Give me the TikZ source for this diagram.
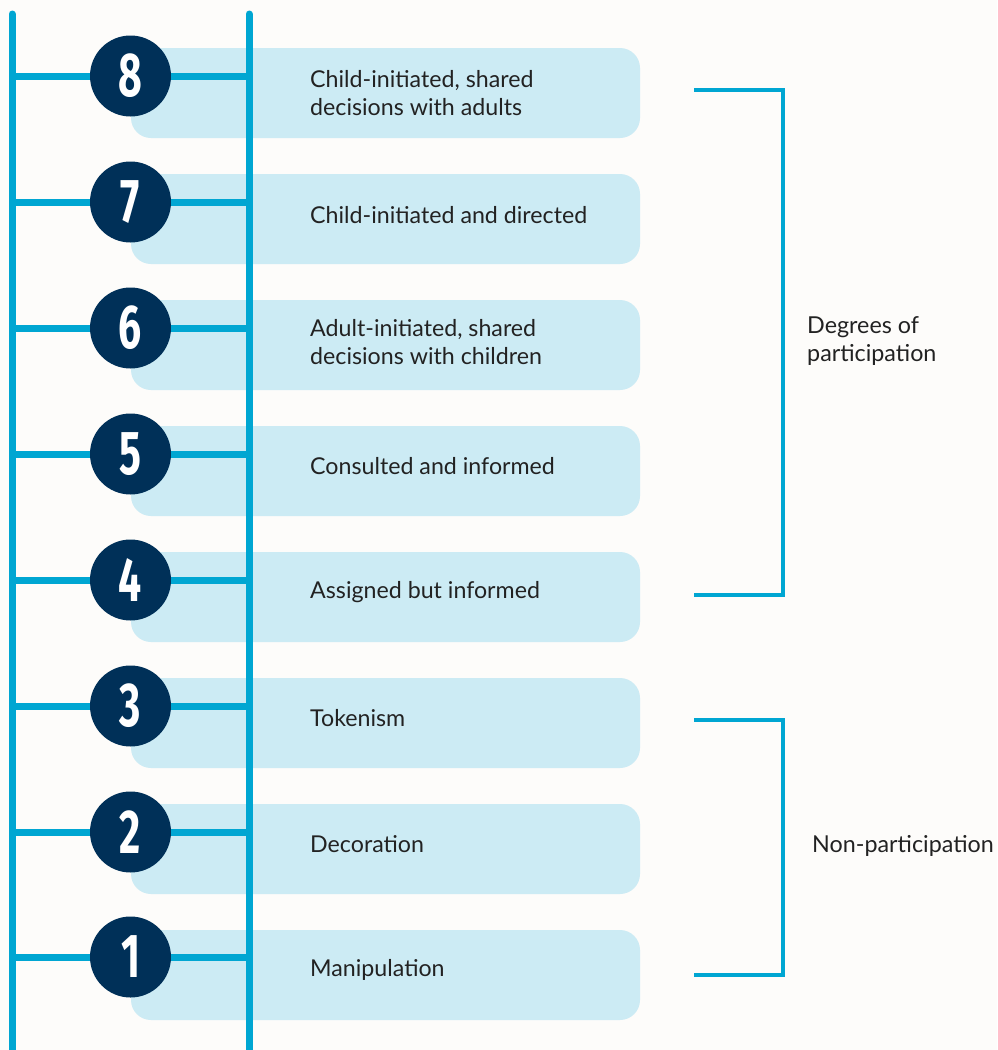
\documentclass[tikz,border=0pt]{standalone}
\usepackage{fontspec}
\setmainfont{Lato}
\newfontfamily\numfont{Fira Sans}

\definecolor{railblue}{HTML}{00A6D2}
\definecolor{navy}{HTML}{003058}
\definecolor{boxblue}{HTML}{CCEBF4}
\definecolor{paper}{HTML}{FDFCFA}
\definecolor{ink}{HTML}{222222}

\tikzset{
	rail/.style={draw=railblue, line width=7pt, line cap=round},
	rung/.style={draw=railblue, line width=7pt},
	stepbox/.style={fill=boxblue, rounded corners=20pt, minimum width=509pt, minimum height=90pt, inner sep=0pt},
	stepnum/.style={circle, fill=navy, minimum size=81pt, inner sep=0pt, text=white, font=\numfont\bfseries\fontsize{62}{62}\selectfont},
	steptext/.style={anchor=west, align=left, text=ink, inner sep=0pt, font=\fontsize{23.2}{28}\selectfont},
	bracket/.style={draw=railblue, line width=4pt},
	grouplabel/.style={anchor=west, align=left, text=ink, inner sep=0pt, font=\fontsize{23.3}{28}\selectfont}
}

\newcommand{\stepdigit}[1]{\scalebox{0.66}[1]{#1}}

\begin{document}
\begin{tikzpicture}[x=1pt, y=-1pt]

		\useasboundingbox[fill=paper] (0,0) rectangle (997,1050);

		% boxes
		\node[stepbox] (b8) at (385.5,93) {};
		\node[stepbox] (b7) at (385.5,219) {};
		\node[stepbox] (b6) at (385.5,345) {};
		\node[stepbox] (b5) at (385.5,471) {};
		\node[stepbox] (b4) at (385.5,597) {};
		\node[stepbox] (b3) at (385.5,723) {};
		\node[stepbox] (b2) at (385.5,849) {};
		\node[stepbox] (b1) at (385.5,975) {};

		% ladder
		\coordinate (ltop) at (12,14);
		\coordinate (lbot) at (12,1056);
		\coordinate (rtop) at (249,14);
		\coordinate (rbot) at (249,1056);

		\draw[rail] (ltop) -- (lbot);
		\draw[rail] (rtop) -- (rbot);

		\node[stepnum] (c8) at (130.5,76) {\stepdigit{8}};
		\node[stepnum] (c7) at (130.5,202) {\stepdigit{7}};
		\node[stepnum] (c6) at (130.5,328) {\stepdigit{6}};
		\node[stepnum] (c5) at (130.5,454) {\stepdigit{5}};
		\node[stepnum] (c4) at (130.5,580) {\stepdigit{4}};
		\node[stepnum] (c3) at (130.5,706) {\stepdigit{3}};
		\node[stepnum] (c2) at (130.5,832) {\stepdigit{2}};
		\node[stepnum] (c1) at (130.5,957) {\stepdigit{1}};

		\draw[rung] (ltop |- c8) -- (c8.west) (c8.east) -- (rtop |- c8);
		\draw[rung] (ltop |- c7) -- (c7.west) (c7.east) -- (rtop |- c7);
		\draw[rung] (ltop |- c6) -- (c6.west) (c6.east) -- (rtop |- c6);
		\draw[rung] (ltop |- c5) -- (c5.west) (c5.east) -- (rtop |- c5);
		\draw[rung] (ltop |- c4) -- (c4.west) (c4.east) -- (rtop |- c4);
		\draw[rung] (ltop |- c3) -- (c3.west) (c3.east) -- (rtop |- c3);
		\draw[rung] (ltop |- c2) -- (c2.west) (c2.east) -- (rtop |- c2);
		\draw[rung] (ltop |- c1) -- (c1.west) (c1.east) -- (rtop |- c1);

		% texts
		\node[steptext] (t8) at (310,93) {Child-initiated, shared\\decisions with adults};
		\node[steptext] (t7) at (310,215) {Child-initiated and directed};
		\node[steptext] (t6) at (310,342) {Adult-initiated, shared\\decisions with children};
		\node[steptext] (t5) at (310,466) {Consulted and informed};
		\node[steptext] (t4) at (310,592) {Assigned but informed};
		\node[steptext] (t3) at (310,718) {Tokenism};
		\node[steptext] (t2) at (310,844) {Decoration};
		\node[steptext] (t1) at (310,970) {Manipulation};

		% brackets
		\coordinate (dtop) at (694,90);
		\coordinate (dbot) at (694,595);
		\coordinate (ntop) at (694,720);
		\coordinate (nbot) at (694,975);

		\draw[bracket] (dtop) -- ++(89,0) |- (dbot);
		\draw[bracket] (ntop) -- ++(89,0) |- (nbot);

		\node[grouplabel] (deg) at (807,341) {Degrees of\\participation};
		\node[grouplabel] (non) at (812,846) {Non-participation};

\end{tikzpicture}
\end{document}
